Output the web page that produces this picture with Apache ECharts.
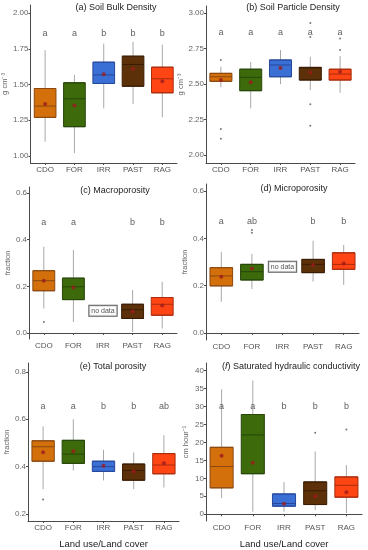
<!DOCTYPE html>
<html><head><meta charset="utf-8">
<script src="https://cdn.jsdelivr.net/npm/echarts@6/dist/echarts.min.js"></script>
<style>html,body{margin:0;padding:0;background:#fff}#c{width:368px;height:550px}</style>
</head><body><div id="c"></div>
<script>
// ---------- DATA ----------
const categories = ['CDO', 'FOR', 'IRR', 'PAST', 'RAG'];

// [min whisker, Q1, median, Q3, max whisker]
const bulkDensityStats = [[1.10, 1.27, 1.349, 1.472, 1.74], [1.02, 1.205, 1.40, 1.512, 1.567], [1.333, 1.507, 1.567, 1.656, 1.786], [1.363, 1.488, 1.64, 1.698, 1.798], [1.27, 1.442, 1.54, 1.621, 1.779]];
const bulkDensityMeans = [1.363, 1.353, 1.572, 1.609, 1.523];
const bulkDensityOutliers = [[], [], [], [], []];
const bulkDensityLetters = ['a', 'a', 'b', 'b', 'b'];
const bulkDensityTicks = [1.00, 1.25, 1.50, 1.75, 2.00];

const particleDensityStats = [[2.477, 2.519, 2.551, 2.575, 2.622], [2.329, 2.453, 2.547, 2.604, 2.655], [2.498, 2.551, 2.634, 2.669, 2.739], [2.458, 2.528, 2.613, 2.617, 2.692], [2.439, 2.528, 2.57, 2.604, 2.697]];
const particleDensityMeans = [2.528, 2.512, 2.613, 2.58, 2.587];
const particleDensityOutliers = [[2.669, 2.183, 2.115], [], [], [2.93, 2.83, 2.357, 2.206], [2.82, 2.739]];
const particleDensityLetters = ['a', 'a', 'a', 'a', 'a'];
const particleDensityTicks = [2.00, 2.25, 2.50, 2.75, 3.00];

const macroporosityStats = [[0.105, 0.181, 0.224, 0.267, 0.37], [0.047, 0.143, 0.198, 0.235, 0.356], null, [0.004, 0.062, 0.10, 0.123, 0.184], [0.019, 0.076, 0.123, 0.152, 0.22]];
const macroporosityMeans = [0.224, 0.195, null, 0.092, 0.118];
const macroporosityOutliers = [[0.047], [], [], [], []];
const macroporosityLetters = ['a', 'a', '', 'b', 'b'];
const macroporosityTicks = [0.0, 0.2, 0.4, 0.6];

const microporosityStats = [[0.132, 0.199, 0.241, 0.276, 0.343], [0.186, 0.224, 0.259, 0.29, 0.334], null, [0.217, 0.255, 0.29, 0.311, 0.39], [0.203, 0.269, 0.29, 0.339, 0.372]];
const microporosityMeans = [0.238, 0.272, null, 0.287, 0.294];
const microporosityOutliers = [[], [0.435, 0.424], [], [], []];
const microporosityLetters = ['a', 'ab', '', 'b', 'b'];
const microporosityTicks = [0.0, 0.2, 0.4, 0.6];

const totalPorosityStats = [[0.305, 0.423, 0.484, 0.509, 0.57], [0.384, 0.414, 0.453, 0.511, 0.60], [0.342, 0.38, 0.40, 0.423, 0.471], [0.305, 0.343, 0.384, 0.411, 0.46], [0.312, 0.37, 0.407, 0.455, 0.532]];
const totalPorosityMeans = [0.461, 0.465, 0.404, 0.38, 0.414];
const totalPorosityOutliers = [[0.262], [], [], [], []];
const totalPorosityLetters = ['a', 'a', 'b', 'b', 'ab'];
const totalPorosityTicks = [0.2, 0.4, 0.6, 0.8];

const ksatStats = [[4.5, 7.35, 13.3, 18.65, 34.8], [0.7, 11.3, 22.1, 27.8, 37.3], [0.7, 2.24, 3.0, 5.65, 9.0], [1.2, 2.7, 6.55, 9.0, 17.5], [0.3, 4.75, 8.07, 10.4, 13.7]];
const ksatMeans = [16.3, 14.35, 2.9, 5.0, 6.1];
const ksatOutliers = [[], [], [], [22.7], [23.6]];
const ksatLetters = ['a', 'a', 'b', 'b', 'b'];
const ksatTicks = [0, 5, 10, 15, 20, 25, 30, 35, 40];

const noDataLabel = 'no data';

// ---------- STYLE / LAYOUT ----------
const fillColors = ['#d4700c', '#3d6a0b', '#3a6fd6', '#5c3008', '#ff4514'];
const edgeColors = ['#8a4810', '#27460a', '#27489a', '#3a1d05', '#a82c0c'];
const FONT = '"Liberation Sans", Arial, sans-serif';

const panels = [
  { title: '(a) Soil Bulk Density', tx: 116, ty: 3, stats: bulkDensityStats, means: bulkDensityMeans, outliers: bulkDensityOutliers, letters: bulkDensityLetters, letterY: 1.86, ticks: bulkDensityTicks, dec: 2,
    grid: { left: 29, top: 5, width: 148, height: 158 }, min: 0.951, max: 2.056, yName: 'g cm\u207B\u00B3', nameGap: 18 },
  { title: '(b) Soil Particle Density', tx: 293, ty: 3, stats: particleDensityStats, means: particleDensityMeans, outliers: particleDensityOutliers, letters: particleDensityLetters, letterY: 2.864, ticks: particleDensityTicks, dec: 2,
    grid: { left: 206, top: 6, width: 149, height: 157 }, min: 1.944, max: 3.049, yName: 'g cm\u207B\u00B3', nameGap: 20 },
  { title: '(c) Macroporosity', tx: 115, ty: 186, stats: macroporosityStats, means: macroporosityMeans, outliers: macroporosityOutliers, letters: macroporosityLetters, letterY: 0.473, ticks: macroporosityTicks, dec: 1,
    grid: { left: 29, top: 187, width: 148, height: 152 }, min: -0.026, max: 0.626, yName: 'fraction', nameGap: 16, noDataY: 0.095 },
  { title: '(d) Microporosity', tx: 294, ty: 184, stats: microporosityStats, means: microporosityMeans, outliers: microporosityOutliers, letters: microporosityLetters, letterY: 0.473, ticks: microporosityTicks, dec: 1,
    grid: { left: 206, top: 184, width: 153, height: 156 }, min: -0.030, max: 0.630, yName: 'fraction', nameGap: 14, noDataY: 0.28 },
  { title: '(e) Total porosity', tx: 113, ty: 362, stats: totalPorosityStats, means: totalPorosityMeans, outliers: totalPorosityOutliers, letters: totalPorosityLetters, letterY: 0.654, ticks: totalPorosityTicks, dec: 1,
    grid: { left: 28, top: 363, width: 151, height: 163 }, min: 0.171, max: 0.837, yName: 'fraction', nameGap: 15, xName: 'Land use/Land cover' },
  { title: ['(', '{i|f}', ') Saturated hydraulic conductivity'].join(''), tx: 291, ty: 362, stats: ksatStats, means: ksatMeans, outliers: ksatOutliers, letters: ksatLetters, letterY: 30.0, ticks: ksatTicks, dec: 0,
    grid: { left: 206, top: 363, width: 156, height: 163 }, min: -1.89, max: 42.16, yName: 'cm hour\u207B\u00B9', nameGap: 16, xName: 'Land use/Land cover' }
];

const grids = [], xAxes = [], yAxes = [], series = [], graphics = [];

panels.forEach((p, k) => {
  grids.push(Object.assign({ containLabel: false }, p.grid));
  const visX = xAxes.length;
  xAxes.push({
    type: 'category', gridIndex: k, data: categories,
    axisLine: { show: true, lineStyle: { color: '#4a4a4a', width: 1 } },
    axisTick: { show: true, length: 2, alignWithLabel: true, interval: 0, lineStyle: { color: '#4a4a4a' } },
    axisLabel: { color: '#555', fontSize: 8, margin: 3, interval: 0, hideOverlap: false, fontFamily: FONT },
    name: p.xName || '', nameLocation: 'middle', nameGap: 18,
    nameTextStyle: { color: '#222', fontSize: 9.5, fontFamily: FONT }
  });
  const hidX = xAxes.length;
  xAxes.push({ type: 'category', gridIndex: k, data: categories, show: false });
  yAxes.push({
    type: 'value', gridIndex: k, min: p.min, max: p.max,
    splitLine: { show: false },
    axisLine: { show: true, lineStyle: { color: '#4a4a4a', width: 1 } },
    axisTick: { show: true, length: 2, customValues: p.ticks, lineStyle: { color: '#4a4a4a' } },
    axisLabel: { customValues: p.ticks, color: '#666', fontSize: 8, margin: 2, fontFamily: FONT,
      formatter: v => Number(v).toFixed(p.dec) },
    name: p.yName, nameLocation: 'middle', nameRotate: 90, nameGap: p.nameGap,
    nameTextStyle: { color: '#666', fontSize: 7.5, fontFamily: FONT }
  });

  const blank = ['-', '-', '-', '-', '-'];
  // whiskers (grey lines)
  series.push({
    type: 'boxplot', xAxisIndex: hidX, yAxisIndex: k, boxWidth: [0, 0],
    itemStyle: { color: 'rgba(0,0,0,0)', borderColor: '#a8a8a8', borderWidth: 1 },
    emphasis: { disabled: true }, silent: true,
    data: p.stats.map(s => s ? s.slice() : blank)
  });
  // boxes
  series.push({
    type: 'boxplot', xAxisIndex: visX, yAxisIndex: k, boxWidth: ['74%', '74%'],
    emphasis: { disabled: true }, silent: true,
    data: p.stats.map((s, i) => s ? {
      value: [s[1], s[1], s[2], s[3], s[3]],
      itemStyle: { color: fillColors[i], borderColor: edgeColors[i], borderWidth: 1 }
    } : { value: blank })
  });
  // outliers
  const outPts = [];
  p.outliers.forEach((arr, i) => arr.forEach(v => outPts.push([i, v])));
  series.push({
    type: 'scatter', xAxisIndex: visX, yAxisIndex: k, symbolSize: 2, silent: true,
    itemStyle: { color: '#555' }, data: outPts
  });
  // means
  series.push({
    type: 'scatter', xAxisIndex: visX, yAxisIndex: k, symbolSize: 4, silent: true, z: 5,
    itemStyle: { color: '#9e1a1a' },
    data: p.means.map((m, i) => m == null ? null : [i, m]).filter(Boolean)
  });
  // letters
  series.push({
    type: 'scatter', xAxisIndex: visX, yAxisIndex: k, symbolSize: 0, silent: true,
    label: { show: true, position: 'inside', formatter: q => q.value[2], color: '#333', fontSize: 9, fontFamily: FONT },
    data: p.letters.map((l, i) => l ? [i, p.letterY, l] : null).filter(Boolean)
  });
  // no data
  if (p.noDataY != null) {
    series.push({
      type: 'scatter', xAxisIndex: visX, yAxisIndex: k, symbolSize: 0, silent: true, z: 6,
      label: { show: true, position: 'inside', formatter: () => noDataLabel, color: '#222', fontSize: 7, fontFamily: FONT,
        backgroundColor: '#fff', borderColor: '#333', borderWidth: 1, padding: [2, 2, 1, 2] },
      data: [[2, p.noDataY]]
    });
  }
  graphics.push({
    type: 'text', x: p.tx, y: p.ty, silent: true,
    style: { text: p.title, textAlign: 'center', textVerticalAlign: 'top', fill: '#222', fontSize: 9, fontFamily: FONT,
      rich: { i: { fontStyle: 'italic', fontSize: 9, fill: '#222', fontFamily: FONT } } }
  });
});

const chart = echarts.init(document.getElementById('c'), null, { renderer: 'canvas' });
chart.setOption({
  animation: false,
  backgroundColor: '#fff',
  textStyle: { fontFamily: FONT },
  grid: grids, xAxis: xAxes, yAxis: yAxes, series: series,
  graphic: graphics
});
</script>
</body></html>
